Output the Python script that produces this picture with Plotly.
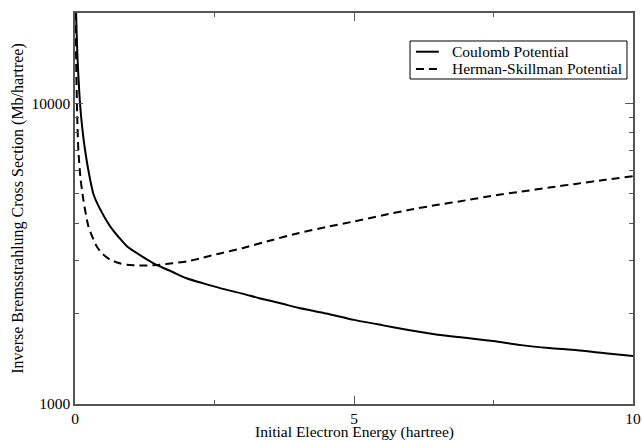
import plotly.graph_objects as go

# Coulomb potential
energy_coulomb = [0.005, 0.02, 0.04, 0.09, 0.13, 0.18, 0.25, 0.33, 0.45, 0.63, 0.8, 0.93,
                  1.2, 1.46, 1.75, 2.0, 2.3, 2.6, 3.0, 3.3, 3.7, 4.0, 4.5, 5.0, 5.5,
                  6.0, 6.5, 7.0, 7.5, 8.0, 8.5, 9.0, 9.5, 10.0]
sigma_coulomb = [30000, 20000, 15000, 10000, 8300, 7000, 5850, 5000, 4450, 3900, 3560, 3350,
                 3100, 2905, 2750, 2620, 2520, 2430, 2330, 2250, 2160, 2090, 2000, 1905, 1830,
                 1760, 1700, 1660, 1620, 1570, 1535, 1510, 1475, 1445]

# Herman-Skillman potential
energy_hs = [0.005, 0.02, 0.04, 0.06, 0.1, 0.15, 0.24, 0.39, 0.5, 0.63, 0.8, 0.93, 1.22,
             1.52, 1.75, 2.0, 2.3, 2.6, 3.0, 3.5, 4.0, 4.5, 5.0, 5.5, 6.0, 6.5,
             7.0, 7.5, 8.0, 8.5, 9.0, 9.5, 10.0]
sigma_hs = [30000, 14000, 9000, 7000, 5600, 4790, 3900, 3340, 3150, 3020, 2940, 2905, 2890,
            2905, 2940, 2980, 3070, 3170, 3300, 3500, 3700, 3880, 4050, 4240, 4430, 4600,
            4760, 4940, 5090, 5250, 5410, 5570, 5730]

series_names = ["Coulomb Potential", "Herman-Skillman Potential"]
x_title = "Initial Electron Energy (hartree)"
y_title = "Inverse Bremsstrahlung Cross Section (Mb/hartree)"
x_ticks = [0, 5, 10]
x_minor = [2.5, 7.5]
y_ticks = [1000, 10000]
y_minor = [2000, 3000, 4000, 5000, 6000, 7000, 8000, 9000, 20000]

FONT = "'Liberation Serif', 'Times New Roman', serif"
AXC = "#555555"
DASH = "8px,5px"

fig = go.Figure()
fig.add_trace(go.Scatter(x=energy_coulomb, y=sigma_coulomb, mode="lines",
                         name=series_names[0], showlegend=False,
                         line=dict(color="black", width=2, shape="spline", smoothing=0.6)))
fig.add_trace(go.Scatter(x=energy_hs, y=sigma_hs, mode="lines",
                         name=series_names[1], showlegend=False,
                         line=dict(color="black", width=2, dash=DASH, shape="spline", smoothing=0.6)))

# Legend box (drawn in paper coordinates)
shapes = [
    dict(type="rect", xref="paper", yref="paper", x0=0.6004, x1=0.9892, y0=0.8312, y1=0.9284,
         line=dict(color="black", width=1), fillcolor="white", layer="above"),
    dict(type="line", xref="paper", yref="paper", x0=0.611, x1=0.652, y0=0.901, y1=0.901,
         line=dict(color="black", width=2), layer="above"),
    dict(type="line", xref="paper", yref="paper", x0=0.611, x1=0.652, y0=0.857, y1=0.857,
         line=dict(color="black", width=2, dash=DASH), layer="above"),
]
annotations = [
    dict(text=series_names[0], xref="paper", yref="paper", x=0.672, y=0.901,
         xanchor="left", yanchor="middle", showarrow=False,
         font=dict(family=FONT, size=15.5, color="black")),
    dict(text=series_names[1], xref="paper", yref="paper", x=0.672, y=0.857,
         xanchor="left", yanchor="middle", showarrow=False,
         font=dict(family=FONT, size=15.5, color="black")),
    dict(text=x_title, xref="paper", yref="paper", x=0.5, y=-0.071,
         xanchor="center", yanchor="middle", showarrow=False, borderpad=0,
         font=dict(family=FONT, size=15.5, color="black")),
]

fig.update_layout(
    width=642, height=441,
    margin=dict(l=75, r=9, t=13, b=37, autoexpand=False),
    paper_bgcolor="white", plot_bgcolor="white",
    font=dict(family=FONT, size=15.5, color="black"),
    showlegend=False,
    shapes=shapes,
    annotations=annotations,
    xaxis=dict(
        range=[0, 10], tickvals=x_ticks, ticks="inside", ticklen=8,
        tickcolor=AXC, tickwidth=1, automargin=False,
        showline=True, linecolor=AXC, linewidth=1.5, mirror="ticks",
        showgrid=False, zeroline=False,
        minor=dict(tickvals=x_minor, ticks="inside", ticklen=4, tickcolor=AXC, showgrid=False),
        tickfont=dict(family=FONT, size=15.5),
    ),
    yaxis=dict(
        type="log", range=[3, 4.30103], tickvals=y_ticks, ticktext=["1000", "10000"],
        ticks="inside", ticklen=8, tickcolor=AXC, tickwidth=1, automargin=False,
        showline=True, linecolor=AXC, linewidth=1.5, mirror="ticks",
        showgrid=False, zeroline=False,
        minor=dict(tickvals=y_minor, ticks="inside", ticklen=4, tickcolor=AXC, showgrid=False),
        title=dict(text=y_title, standoff=4, font=dict(family=FONT, size=16)),
        tickfont=dict(family=FONT, size=15.5),
    ),
)

fig.write_html("out.html")
